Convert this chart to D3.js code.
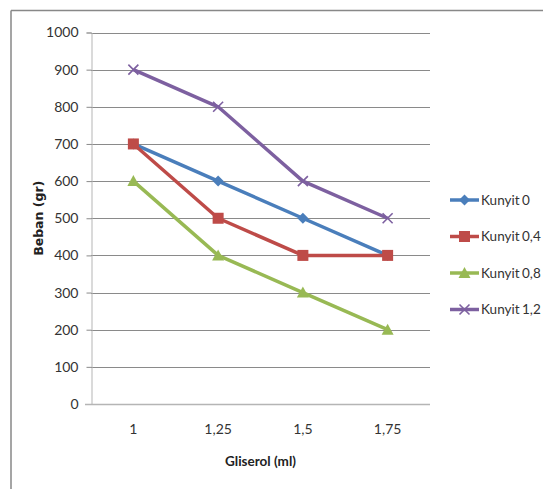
<!DOCTYPE html>
<html>
<head>
<meta charset="utf-8">
<script src="https://cdn.jsdelivr.net/npm/d3@7"></script>
<style>
  html, body { margin: 0; padding: 0; background: #fff; }
  svg { display: block; }
  text { font-family: Lato, "Liberation Sans", sans-serif; fill: #222; }
</style>
</head>
<body>
<svg id="chart" width="543" height="489"></svg>
<script>
// Gliserol amounts (ml) on the x axis
const categories = ["1", "1,25", "1,5", "1,75"];
// Load (gr) for each turmeric concentration
const seriesNames = ["Kunyit 0", "Kunyit 0,4", "Kunyit 0,8", "Kunyit 1,2"];
const kunyit0  = [700, 600, 500, 400];
const kunyit04 = [700, 500, 400, 400];
const kunyit08 = [600, 400, 300, 200];
const kunyit12 = [900, 800, 600, 500];
const yTicks = [0, 100, 200, 300, 400, 500, 600, 700, 800, 900, 1000];

const seriesValues = [kunyit0, kunyit04, kunyit08, kunyit12];
const colors = ["#4A7EBB", "#BE4B48", "#98B954", "#7D60A0"];
const markers = ["diamond", "square", "triangle", "cross"];

const svg = d3.select("#chart");

// outer frame (top and left edges)
svg.append("path")
  .attr("d", "M11,10.5 H543 M11,10.5 V489")
  .attr("stroke", "#888").attr("stroke-width", 1.5).attr("fill", "none");

const plot = { left: 91, right: 430, top: 32.5, bottom: 404 };

const x = d3.scaleBand().domain(categories).range([plot.left, plot.right]);
const y = d3.scaleLinear().domain([0, 1000]).range([plot.bottom, plot.top]);

// horizontal gridlines
svg.append("g").selectAll("line").data(yTicks.filter(d => d > 0)).join("line")
  .attr("x1", plot.left).attr("x2", plot.right)
  .attr("y1", d => Math.round(y(d)) + 0.5).attr("y2", d => Math.round(y(d)) + 0.5)
  .attr("stroke", "#8a8a8a").attr("stroke-width", 1);

// y axis
const yAxis = svg.append("g")
  .attr("transform", `translate(${plot.left + 0.5},0)`)
  .call(d3.axisLeft(y).tickValues(yTicks).tickSize(5).tickPadding(8).tickFormat(d3.format("d")));
yAxis.select(".domain").attr("stroke", "#b5b5b5");
yAxis.selectAll(".tick line").attr("stroke", "#8a8a8a");
yAxis.selectAll(".tick text").attr("font-size", 14).style("fill", "#333");

// x axis
const xAxis = svg.append("g")
  .attr("transform", `translate(0,${Math.round(plot.bottom) + 0.5})`)
  .call(d3.axisBottom(x).tickSize(0).tickPadding(20));
xAxis.select(".domain").attr("stroke", "#b5b5b5").attr("stroke-width", 1.5)
  .attr("d", `M${plot.left - 6},0H${plot.right}`);
xAxis.selectAll(".tick text").attr("font-size", 14).style("fill", "#333");

// axis titles
svg.append("text")
  .attr("transform", `translate(43,${(plot.top + plot.bottom) / 2}) rotate(-90)`)
  .attr("text-anchor", "middle").attr("font-size", 12.5).attr("font-weight", "bold")
  .style("font-family", "'DejaVu Sans', sans-serif")
  .text("Beban (gr)");
svg.append("text")
  .attr("x", (plot.left + plot.right) / 2).attr("y", 466)
  .attr("text-anchor", "middle").attr("font-size", 13.5).attr("font-weight", "bold")
  .text("Gliserol (ml)");

function drawMarker(g, type, color) {
  if (type === "diamond") {
    g.append("path").attr("d", "M0,-5.5L5.5,0L0,5.5L-5.5,0Z").attr("fill", color);
  } else if (type === "square") {
    g.append("rect").attr("x", -5.5).attr("y", -5.5).attr("width", 11).attr("height", 11).attr("fill", color);
  } else if (type === "triangle") {
    g.append("path").attr("d", "M0,-6L6,5L-6,5Z").attr("fill", color);
  } else {
    g.append("path").attr("d", "M-5,-5L5,5M-5,5L5,-5").attr("stroke", color)
      .attr("stroke-width", 1.6).attr("fill", "none");
  }
}

const line = d3.line()
  .x((d, i) => x(categories[i]) + x.bandwidth() / 2)
  .y(d => y(d));

seriesValues.forEach((vals, si) => {
  const g = svg.append("g");
  g.append("path").datum(vals).attr("d", line)
    .attr("fill", "none").attr("stroke", colors[si]).attr("stroke-width", 3.5)
    .attr("stroke-linejoin", "round");
  vals.forEach((v, i) => {
    const m = g.append("g").attr("transform",
      `translate(${x(categories[i]) + x.bandwidth() / 2},${y(v)})`);
    drawMarker(m, markers[si], colors[si]);
  });
});

// legend
const legend = svg.append("g");
seriesNames.forEach((name, i) => {
  const ly = 200 + i * 36.5;
  const lg = legend.append("g").attr("transform", `translate(0,${ly})`);
  lg.append("line").attr("x1", 450).attr("x2", 479).attr("y1", 0).attr("y2", 0)
    .attr("stroke", colors[i]).attr("stroke-width", 3.5);
  const m = lg.append("g").attr("transform", "translate(464.5,0)");
  drawMarker(m, markers[i], colors[i]);
  lg.append("text").attr("x", 481).attr("y", 4.5).attr("font-size", 13.5)
    .style("fill", "#333").style("word-spacing", "-1px").text(name);
});
</script>
</body>
</html>
